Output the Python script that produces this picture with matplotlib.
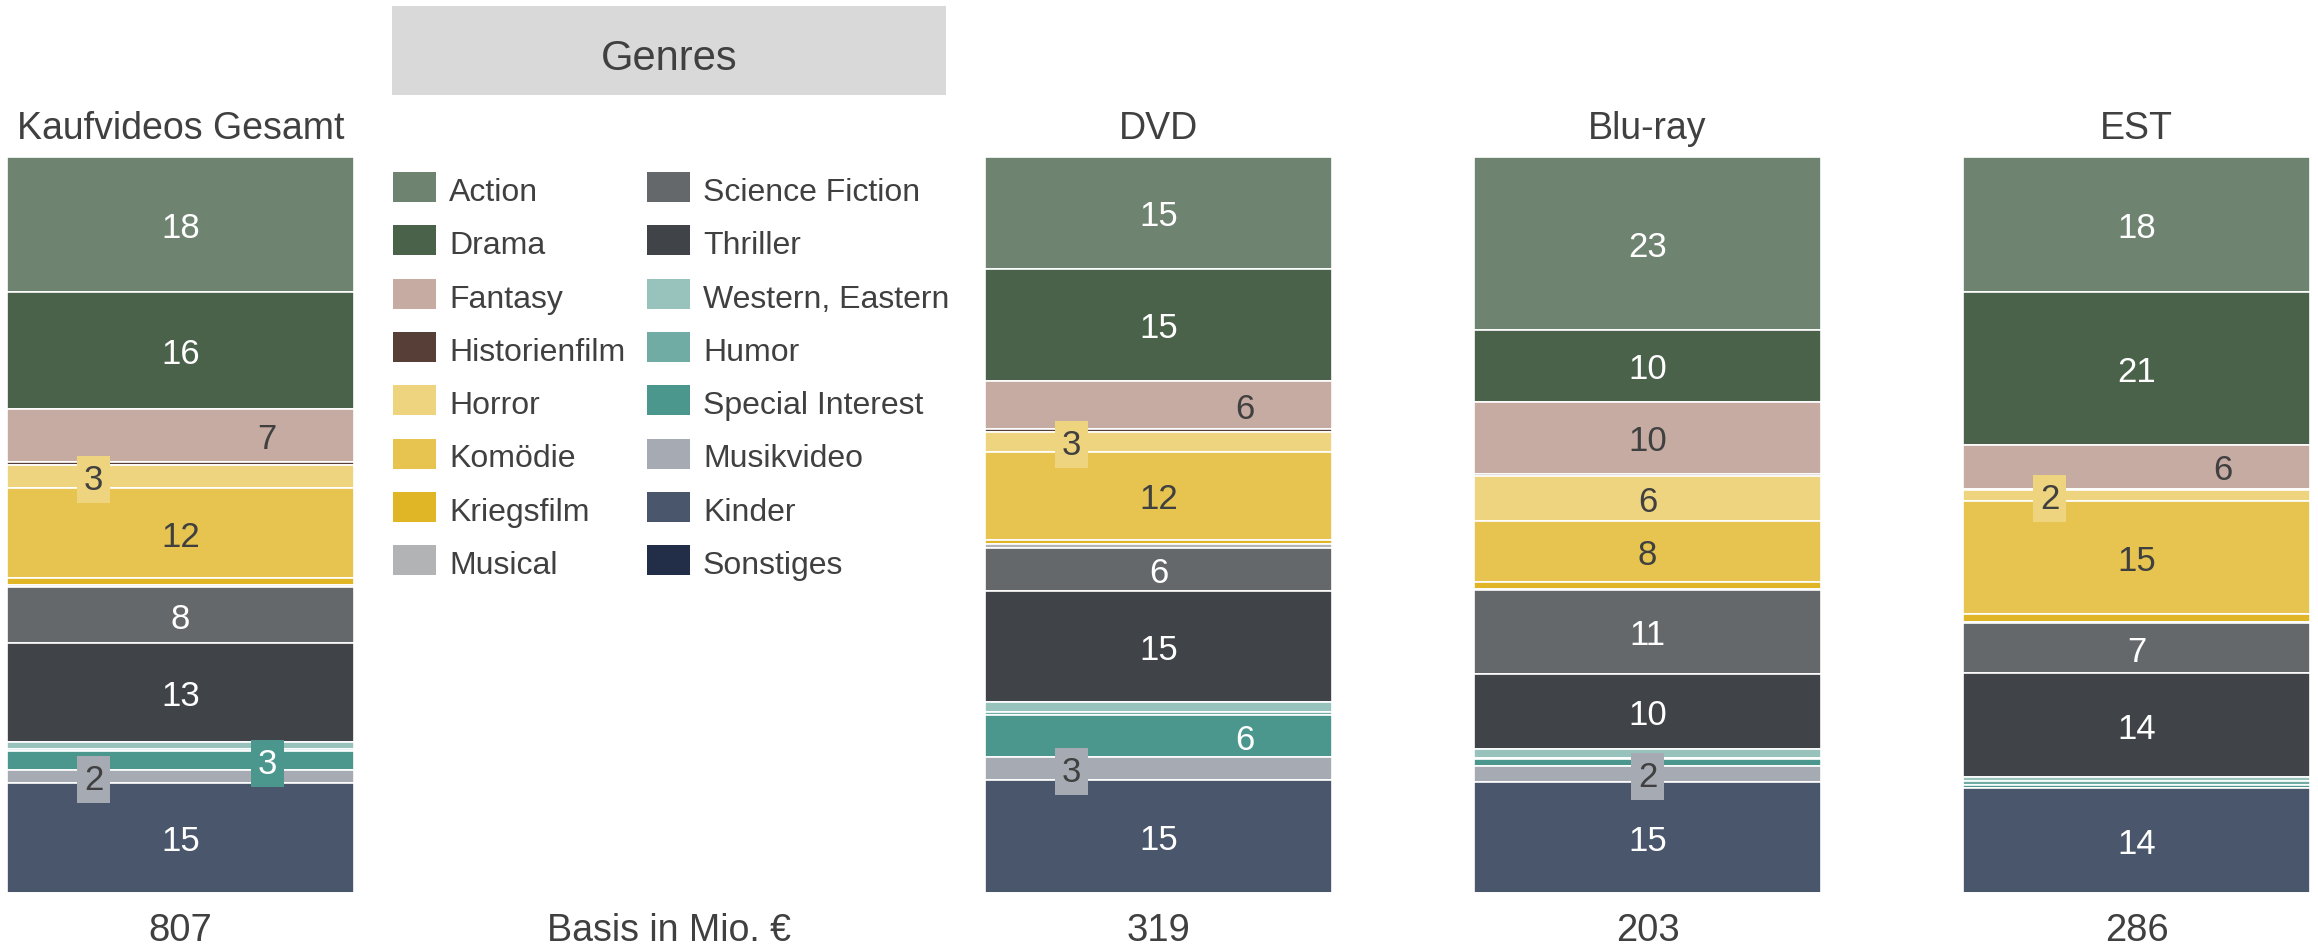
import matplotlib
matplotlib.use("Agg")
import matplotlib.pyplot as plt
from matplotlib.patches import Rectangle
import numpy as np

plt.rcParams['font.family'] = ['Liberation Sans', 'DejaVu Sans']

# ---------------- data ----------------
genres = ["Action", "Drama", "Fantasy", "Historienfilm", "Horror", "Komödie",
          "Kriegsfilm", "Musical", "Science Fiction", "Thriller", "Western, Eastern",
          "Humor", "Special Interest", "Musikvideo", "Kinder", "Sonstiges"]

bars = ["Kaufvideos Gesamt", "DVD", "Blu-ray", "EST"]
basis = ["807", "319", "203", "286"]
basis_label = "Basis in Mio. €"

gesamt = [18.2, 15.8, 7.2, 0.3, 3.2, 12.1, 0.9, 0.3, 7.6, 13.3, 0.9, 0.3, 2.6, 1.7, 14.8, 0.2]
dvd    = [15.1, 15.3, 6.4, 0.4, 2.7, 12.0, 0.5, 0.5, 5.9, 15.0, 1.3, 0.5, 5.7, 3.0, 15.4, 0.1]
bluray = [23.3, 9.7, 9.8, 0.2, 6.1, 8.2, 0.9, 0.2, 11.3, 10.2, 1.2, 0.1, 0.9, 2.2, 15.0, 0.1]
est    = [18.4, 20.8, 6.0, 0.1, 1.6, 15.3, 1.1, 0.2, 6.8, 14.2, 0.5, 0.5, 0.4, 0.1, 14.3, 0.1]
values = [gesamt, dvd, bluray, est]

# ---------------- style ----------------
colors = ["#6e8370", "#4a614a", "#c5aba2", "#573e36", "#eed47e", "#e7c44f",
          "#e0b627", "#b2b3b5", "#65686b", "#404348", "#97c3bc", "#71aca4",
          "#4c978d", "#a6aab3", "#4a566b", "#222d47"]
TXT = "#404040"
light = {"Fantasy", "Horror", "Komödie", "Kriegsfilm", "Musical", "Musikvideo",
         "Western, Eastern", "Humor"}

# label x-position (fraction of bar width) for labels not centred
label_x = {
    (0, "Fantasy"): 0.75, (0, "Horror"): 0.25, (0, "Special Interest"): 0.75, (0, "Musikvideo"): 0.25,
    (1, "Fantasy"): 0.75, (1, "Horror"): 0.25, (1, "Special Interest"): 0.75, (1, "Musikvideo"): 0.25,
    (3, "Fantasy"): 0.75, (3, "Horror"): 0.25,
}

W, H = 2318, 945
fig = plt.figure(figsize=(W / 100, H / 100), dpi=100)
fig.patch.set_facecolor("white")

bar_x = [7, 985, 1474, 1963]
bar_w = 347
top, bottom = 158, 895

def fx(px):
    return px / W

def fy(py):
    return 1 - py / H

for i, (name, vals) in enumerate(zip(bars, values)):
    ax = fig.add_axes([fx(bar_x[i]), fy(bottom), bar_w / W, (bottom - top) / H])
    total = sum(vals)
    cum = 0.0
    for g, v, c in zip(genres, vals, colors):
        ax.bar(0, v, bottom=cum, width=1.0, color=c, edgecolor="white", linewidth=1.2)
        if v >= 1.5:
            xf = label_x.get((i, g), 0.5)
            tc = TXT if g in light else "white"
            kw = {}
            if v < 4.5:
                kw["bbox"] = dict(boxstyle="square,pad=0.2", facecolor=c, edgecolor="none")
            ax.text(xf - 0.5, cum + v / 2 + total * 0.004, f"{v:.0f}", ha="center", va="center",
                    fontsize=25, color=tc, **kw)
        cum += v
    ax.set_xlim(-0.5, 0.5)
    ax.set_ylim(total, 0)
    ax.axis("off")
    cx = bar_x[i] + bar_w / 2
    fig.text(fx(cx), fy(129), name, ha="center", va="center", fontsize=27, color=TXT)
    fig.text(fx(cx), fy(931), basis[i], ha="center", va="center", fontsize=27.5, color=TXT)

# Genres header box
fig.patches.append(Rectangle((fx(392), fy(96)), 554 / W, 89 / H, transform=fig.transFigure,
                             facecolor="#d9d9d9", edgecolor="none"))
fig.text(fx(669), fy(59), "Genres", ha="center", va="center", fontsize=30, color=TXT)
fig.text(fx(669), fy(931), basis_label, ha="center", va="center", fontsize=27, color=TXT)

# legend (manual, two columns of 8)
col_patch_x = [393, 647]
col_text_x = [449, 703]
row0, row_step = 188, 53.3
for k, (g, c) in enumerate(zip(genres, colors)):
    col, row = divmod(k, 8)
    yc = row0 + row * row_step
    fig.patches.append(Rectangle((fx(col_patch_x[col]), fy(yc + 15)), 43 / W, 30 / H,
                                 transform=fig.transFigure, facecolor=c, edgecolor="none"))
    fig.text(fx(col_text_x[col]), fy(yc + 5), g, ha="left", va="center", fontsize=23, color=TXT)

fig.savefig("out.png", dpi=100, facecolor="white")
